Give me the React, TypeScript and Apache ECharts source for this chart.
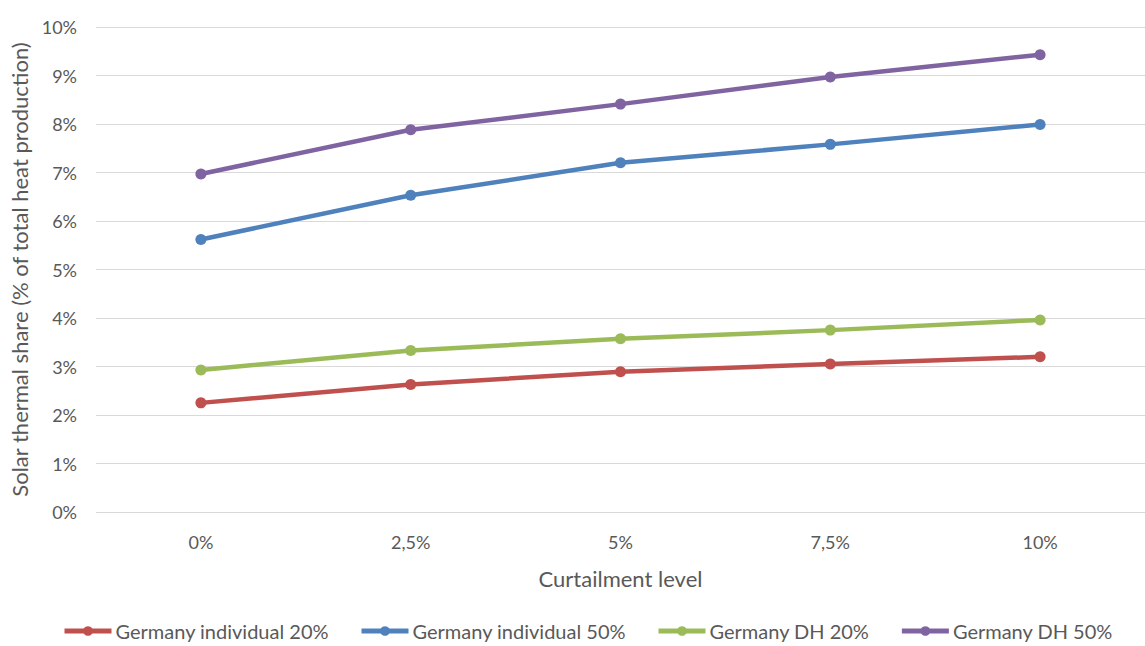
import React, { useEffect, useRef } from "react";
import * as echarts from "echarts";

const categories = ["0%", "2,5%", "5%", "7,5%", "10%"];
const seriesNames = [
  "Germany individual 20%",
  "Germany individual 50%",
  "Germany DH 20%",
  "Germany DH 50%",
];
const indiv20 = [2.25, 2.63, 2.89, 3.05, 3.2];
const indiv50 = [5.62, 6.53, 7.2, 7.58, 7.99];
const dh20 = [2.93, 3.33, 3.57, 3.75, 3.96];
const dh50 = [6.97, 7.88, 8.41, 8.97, 9.43];
const colors = ["#C0504D", "#4F81BD", "#9BBB59", "#8064A2"];
const yTicks = [0, 1, 2, 3, 4, 5, 6, 7, 8, 9, 10];

export default function App() {
  const ref = useRef<HTMLDivElement>(null);
  useEffect(() => {
    if (!ref.current) return;
    const chart = echarts.init(ref.current, undefined, { renderer: "svg" });
    const data = [indiv20, indiv50, dh20, dh50];
    const font = "Lato, 'Open Sans', sans-serif";
    chart.setOption({
      animation: false,
      textStyle: { fontFamily: font },
      grid: { left: 96, width: 1063, top: 27, bottom: 134, containLabel: false },
      legend: {
        data: seriesNames,
        top: 621,
        left: 62,
        padding: 0,
        itemWidth: 47,
        itemHeight: 12,
        itemGap: 30,
        lineStyle: { width: 5 },
        textStyle: { fontSize: 20, color: "#595959", fontFamily: font, padding: [0, 0, 0, -1] },
      },
      xAxis: {
        type: "category",
        data: categories,
        boundaryGap: true,
        name: "Curtailment level",
        nameLocation: "middle",
        nameGap: 55,
        nameTextStyle: { fontSize: 22, color: "#595959" },
        axisLine: { show: false },
        axisTick: { show: false },
        axisLabel: { fontSize: 18, color: "#595959", margin: 21 },
      },
      yAxis: {
        type: "value",
        min: yTicks[0],
        max: yTicks[yTicks.length - 1],
        interval: 1,
        name: "Solar thermal share (% of total heat production)",
        nameLocation: "middle",
        nameGap: 65,
        nameTextStyle: { fontSize: 22, color: "#595959" },
        axisLabel: { fontSize: 18, color: "#595959", margin: 19, formatter: "{value}%" },
        splitLine: { lineStyle: { color: "#D9D9D9", width: 1 } },
        axisLine: { show: false },
        axisTick: { show: false },
      },
      series: seriesNames.map((n, i) => ({
        name: n,
        type: "line",
        data: data[i],
        symbol: "circle",
        symbolSize: 11,
        lineStyle: { width: 4.5, color: colors[i] },
        itemStyle: { color: colors[i] },
        color: colors[i],
      })),
    });
    return () => chart.dispose();
  }, []);
  return <div ref={ref} style={{ width: 1145, height: 646, position: "absolute", left: 0, top: 0 }} />;
}
